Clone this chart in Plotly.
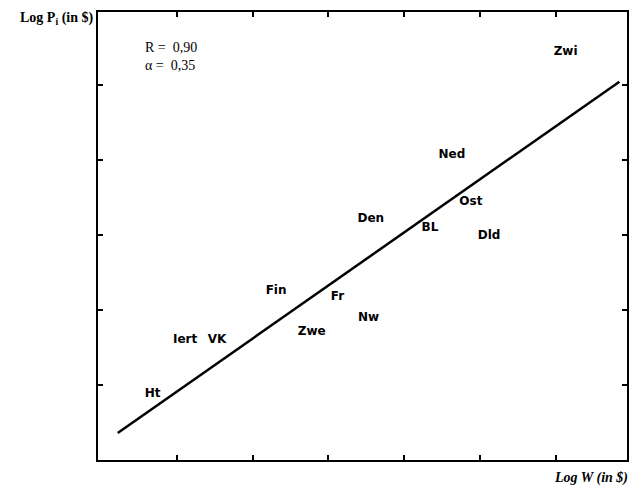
import plotly.graph_objects as go

countries = ["Ht", "Iert", "VK", "Fin", "Fr", "Zwe", "Nw", "Den", "BL", "Ned", "Ost", "Dld", "Zwi"]
log_w = [0.68, 1.11, 1.53, 2.31, 3.12, 2.78, 3.53, 3.56, 4.34, 4.63, 4.88, 5.12, 6.13]
log_p = [0.88, 1.60, 1.60, 2.26, 2.18, 1.71, 1.89, 3.22, 3.10, 4.07, 3.44, 2.99, 5.44]

fit_x = [0.22, 6.84]
fit_y = [0.36, 5.05]

x_ticks = [1, 2, 3, 4, 5, 6]
y_ticks = [1, 2, 3, 4, 5]

fig = go.Figure()
fig.add_trace(go.Scatter(x=fit_x, y=fit_y, mode="lines",
                         line=dict(color="black", width=2.5), hoverinfo="skip"))
fig.add_trace(go.Scatter(x=log_w, y=log_p, mode="text", text=countries,
                         textfont=dict(family="DejaVu Sans", size=12, color="black", weight="bold"),
                         textposition="middle center"))

axis_common = dict(showgrid=False, zeroline=False, showline=True, linecolor="black",
                   linewidth=1.5, mirror="ticks", ticks="inside", ticklen=5,
                   tickcolor="black", tickwidth=1.5, showticklabels=False)
fig.update_xaxes(range=[-0.04, 6.94], tickvals=x_ticks, **axis_common)
fig.update_yaxes(range=[0, 5.98], tickvals=y_ticks, **axis_common)

fig.add_annotation(xref="paper", yref="paper", x=-0.006, y=0.985, xanchor="right", yanchor="middle",
                   text="<b>Log P<sub>i</sub> (in $)</b>", showarrow=False,
                   font=dict(family="Liberation Serif", size=14, color="black"))
fig.add_annotation(xref="paper", yref="paper", x=1.006, y=-0.04, xanchor="right", yanchor="middle",
                   text="<b><i>Log W (in $)</i></b>", showarrow=False,
                   font=dict(family="Liberation Serif", size=14, color="black"))
fig.add_annotation(xref="paper", yref="paper", x=0.085, y=0.9, xanchor="left", yanchor="middle",
                   text="R =&nbsp;&nbsp;0,90<br>α =&nbsp;&nbsp;0,35", showarrow=False, align="left",
                   font=dict(family="Liberation Serif", size=14, color="black"))

fig.update_layout(width=640, height=486, margin=dict(l=98, r=13, t=10, b=26),
                  paper_bgcolor="white", plot_bgcolor="white", showlegend=False)
fig.write_html("out.html", config={"displayModeBar": False},
               post_script="document.body.style.margin='0';")
